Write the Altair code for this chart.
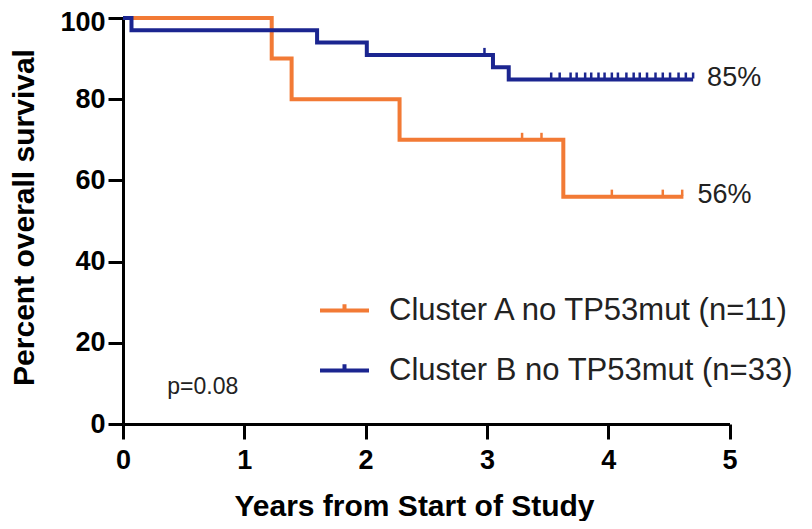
import altair as alt
import pandas as pd

FONT = "Liberation Sans"
series_names = ["Cluster A no TP53mut (n=11)", "Cluster B no TP53mut (n=33)"]
series_colors = ["#F27A35", "#1B2590"]

# Kaplan-Meier step points (years, percent surviving)
a_times = [0, 1.226, 1.39, 2.28, 3.63, 4.62]
a_surv = [100, 90, 80, 70, 56, 56]
b_times = [0, 0.07, 1.60, 2.01, 3.05, 3.18, 4.70]
b_surv = [100, 96.97, 93.94, 90.91, 87.88, 84.85, 84.85]

# censored observations
a_cens_t = [3.29, 3.45, 4.03, 4.45, 4.61]
a_cens_s = [70, 70, 56, 56, 56]
b_cens_t = [2.98, 3.53, 3.60, 3.69, 3.74, 3.81, 3.86, 3.92, 3.97, 4.03, 4.08,
            4.15, 4.21, 4.26, 4.32, 4.39, 4.45, 4.51, 4.58, 4.64, 4.70]
b_cens_s = [90.91, 84.85, 84.85, 84.85, 84.85, 84.85, 84.85, 84.85, 84.85, 84.85, 84.85,
            84.85, 84.85, 84.85, 84.85, 84.85, 84.85, 84.85, 84.85, 84.85, 84.85]

end_t = [4.62, 4.70]
end_s = [56, 84.85]
end_labels = ["56%", "85%"]

x_ticks = [0, 1, 2, 3, 4, 5]
y_ticks = [0, 20, 40, 60, 80, 100]
p_text = "p=0.08"

steps = pd.DataFrame({
    "time": a_times + b_times,
    "surv": a_surv + b_surv,
    "group": [series_names[0]] * len(a_times) + [series_names[1]] * len(b_times),
})
cens = pd.DataFrame({
    "time": a_cens_t + b_cens_t,
    "surv": a_cens_s + b_cens_s,
    "group": [series_names[0]] * len(a_cens_t) + [series_names[1]] * len(b_cens_t),
})
ends = pd.DataFrame({"time": end_t, "surv": end_s, "label": end_labels})

xscale = alt.Scale(domain=[0, 5], nice=False, zero=False)
yscale = alt.Scale(domain=[0, 100], nice=False)

x_axis = alt.Axis(values=x_ticks, format="d", grid=False, title="Years from Start of Study",
                  labelFlush=False, labelPadding=8,
                  titleX=291, titleY=91, titleAlign="center", titleBaseline="alphabetic")
y_axis = alt.Axis(values=y_ticks, format="d", grid=False, title="Percent overall survival",
                  labelFlush=False, labelPadding=3,
                  labelOffset=alt.ExprRef(expr="datum.value == 100 ? 4 : 0"),
                  titleX=-99, titleY=199, titleAlign="center", titleBaseline="middle", titleAngle=-90)

color = alt.Color("group:N", scale=alt.Scale(domain=series_names, range=series_colors),
                  legend=alt.Legend(title=None, orient="none", legendX=195, legendY=266,
                                    symbolType="M-1,0L1,0M0,0L0,-0.26", symbolSize=2401,
                                    symbolStrokeWidth=4, symbolFillColor="transparent",
                                    labelFontSize=31, labelFont=FONT, labelColor="#222222",
                                    labelLimit=0, labelOffset=18, rowPadding=18, padding=0))

lines = alt.Chart(steps).mark_line(interpolate="step-after", strokeWidth=4).encode(
    x=alt.X("time:Q", scale=xscale, axis=x_axis),
    y=alt.Y("surv:Q", scale=yscale, axis=y_axis),
    color=color,
)

ticks = alt.Chart(cens).mark_rule(strokeWidth=2.5, yOffset=-7, y2Offset=-1).encode(
    x=alt.X("time:Q", scale=xscale),
    y=alt.Y("surv:Q", scale=yscale),
    y2=alt.Y2("surv:Q"),
    color=color,
)

labels = alt.Chart(ends).mark_text(align="left", baseline="middle", dx=14, dy=-2,
                                   fontSize=27, font=FONT, color="#222222").encode(
    x=alt.X("time:Q", scale=xscale),
    y=alt.Y("surv:Q", scale=yscale),
    text="label:N",
)

ptext = alt.Chart(pd.DataFrame({"t": [p_text]})).mark_text(
    align="left", baseline="alphabetic", fontSize=23, font=FONT, color="#222222").encode(
    x=alt.datum(0.365), y=alt.datum(7.5), text="t:N")

chart = alt.layer(lines, ticks, labels, ptext).properties(
    width=606.5, height=406,
    autosize=alt.AutoSizeParams(type="none"),
    padding={"left": 115, "top": 10, "right": 74, "bottom": 97},
).configure_view(stroke=None).configure_axis(
    domainColor="black", domainWidth=3, tickColor="black", tickWidth=3, tickSize=15,
    labelFont=FONT, labelFontSize=27, labelFontWeight="bold", labelColor="black",
    titleFont=FONT, titleFontSize=30, titleFontWeight="bold", titleColor="black",
)

chart.save("out.html", embed_options={"renderer": "svg", "actions": False})
